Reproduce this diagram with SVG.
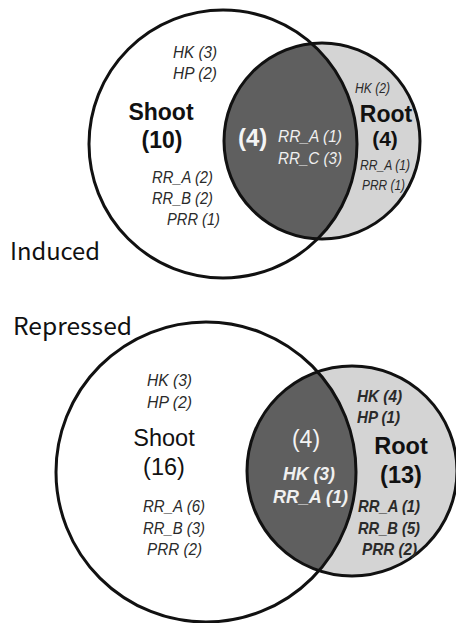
<svg xmlns="http://www.w3.org/2000/svg" width="456" height="623" viewBox="0 0 456 623">
<style>
.ring{fill:none;stroke:#111;stroke-width:3}
.shootfill{fill:#fff}
.rootfill{fill:#d4d4d4}
.inter{fill:#5f5f5f}
.it{font-family:"Liberation Sans",Arial,sans-serif;font-style:italic;fill:#2a2a2a}
.itw{font-family:"Liberation Sans",Arial,sans-serif;font-style:italic;fill:#f0f0f0}
.big{font-family:"Liberation Sans",Arial,sans-serif;fill:#111}
.bigw{font-family:"Liberation Sans",Arial,sans-serif;fill:#f4f4f4}
.title{font-family:"Noto Sans CJK JP","DejaVu Sans Mono",monospace;fill:#111;font-size:24px}
</style>
<defs>
<clipPath id="clipShootA"><circle cx="223" cy="144" r="134"/></clipPath>
<clipPath id="clipShootB"><circle cx="206" cy="472" r="150"/></clipPath>
</defs>
<rect width="456" height="623" fill="#fff"/>

<!-- Induced -->
<g id="induced-shoot">
<circle class="shootfill" cx="223" cy="144" r="134"/>
</g>
<g id="induced-root">
<circle class="rootfill" cx="322" cy="141" r="98"/>
</g>
<g id="induced-overlap">
<circle class="inter" cx="322" cy="141" r="98" clip-path="url(#clipShootA)"/>
</g>
<g id="induced-rings">
<circle class="ring" cx="223" cy="144" r="134"/>
<circle class="ring" cx="322" cy="141" r="98"/>
</g>
<g id="induced-shoot-labels">
<text class="it" font-size="16.5" x="173" y="58" textLength="44" lengthAdjust="spacingAndGlyphs">HK (3)</text>
<text class="it" font-size="16.5" x="173" y="79" textLength="44" lengthAdjust="spacingAndGlyphs">HP (2)</text>
<text class="big" font-size="23" font-weight="bold" x="161" y="120" text-anchor="middle">Shoot</text>
<text class="big" font-size="23" font-weight="bold" x="162" y="148" text-anchor="middle">(10)</text>
<text class="it" font-size="16.5" x="152" y="183" textLength="61" lengthAdjust="spacingAndGlyphs">RR_A (2)</text>
<text class="it" font-size="16.5" x="152" y="204" textLength="61" lengthAdjust="spacingAndGlyphs">RR_B (2)</text>
<text class="it" font-size="16.5" x="167" y="225" textLength="53" lengthAdjust="spacingAndGlyphs">PRR (1)</text>
</g>
<g id="induced-overlap-labels">
<text class="bigw" font-size="24" font-weight="bold" x="238" y="146">(4)</text>
<text class="itw" font-size="17" x="278" y="142" textLength="64" lengthAdjust="spacingAndGlyphs">RR_A (1)</text>
<text class="itw" font-size="17" x="278" y="164" textLength="64" lengthAdjust="spacingAndGlyphs">RR_C (3)</text>
</g>
<g id="induced-root-labels">
<text class="it" font-size="14" x="355" y="93" textLength="35" lengthAdjust="spacingAndGlyphs">HK (2)</text>
<text class="big" font-size="23" font-weight="bold" x="386" y="122" text-anchor="middle">Root</text>
<text class="big" font-size="21" font-weight="bold" x="385" y="146" text-anchor="middle">(4)</text>
<text class="it" font-size="14" x="360" y="170" textLength="50" lengthAdjust="spacingAndGlyphs">RR_A (1)</text>
<text class="it" font-size="14" x="362" y="190" textLength="43" lengthAdjust="spacingAndGlyphs">PRR (1)</text>
</g>
<text id="label-induced" class="title" x="10" y="260" textLength="90" lengthAdjust="spacingAndGlyphs">Induced</text>

<!-- Repressed -->
<text id="label-repressed" class="title" x="13" y="335" textLength="119" lengthAdjust="spacingAndGlyphs">Repressed</text>
<g id="repressed-shoot">
<circle class="shootfill" cx="206" cy="472" r="150"/>
</g>
<g id="repressed-root">
<circle class="rootfill" cx="352" cy="471" r="105"/>
</g>
<g id="repressed-overlap">
<circle class="inter" cx="352" cy="471" r="105" clip-path="url(#clipShootB)"/>
</g>
<g id="repressed-rings">
<circle class="ring" cx="206" cy="472" r="150"/>
<circle class="ring" cx="352" cy="471" r="105"/>
</g>
<g id="repressed-shoot-labels">
<text class="it" font-size="16.5" x="147" y="386" textLength="45" lengthAdjust="spacingAndGlyphs">HK (3)</text>
<text class="it" font-size="16.5" x="147" y="408" textLength="45" lengthAdjust="spacingAndGlyphs">HP (2)</text>
<text class="big" font-size="23.5" x="164" y="446" text-anchor="middle">Shoot</text>
<text class="big" font-size="23.5" x="164" y="475" text-anchor="middle">(16)</text>
<text class="it" font-size="16.5" x="143" y="512" textLength="62" lengthAdjust="spacingAndGlyphs">RR_A (6)</text>
<text class="it" font-size="16.5" x="143" y="534" textLength="62" lengthAdjust="spacingAndGlyphs">RR_B (3)</text>
<text class="it" font-size="16.5" x="147" y="555" textLength="55" lengthAdjust="spacingAndGlyphs">PRR (2)</text>
</g>
<g id="repressed-overlap-labels">
<text class="bigw" font-size="23" x="306" y="447" text-anchor="middle">(4)</text>
<text class="itw" font-size="17.5" font-weight="bold" x="283" y="480" textLength="52" lengthAdjust="spacingAndGlyphs">HK (3)</text>
<text class="itw" font-size="17.5" font-weight="bold" x="273" y="503" textLength="75" lengthAdjust="spacingAndGlyphs">RR_A (1)</text>
</g>
<g id="repressed-root-labels">
<text class="it" font-size="16.5" font-weight="bold" x="357" y="402" textLength="45" lengthAdjust="spacingAndGlyphs">HK (4)</text>
<text class="it" font-size="16.5" font-weight="bold" x="357" y="423" textLength="43" lengthAdjust="spacingAndGlyphs">HP (1)</text>
<text class="big" font-size="23.5" font-weight="bold" x="401" y="454" text-anchor="middle">Root</text>
<text class="big" font-size="23.5" font-weight="bold" x="401" y="483" text-anchor="middle">(13)</text>
<text class="it" font-size="16.5" font-weight="bold" x="358" y="512" textLength="62" lengthAdjust="spacingAndGlyphs">RR_A (1)</text>
<text class="it" font-size="16.5" font-weight="bold" x="358" y="534" textLength="62" lengthAdjust="spacingAndGlyphs">RR_B (5)</text>
<text class="it" font-size="16.5" font-weight="bold" x="362" y="555" textLength="55" lengthAdjust="spacingAndGlyphs">PRR (2)</text>
</g>
</svg>
